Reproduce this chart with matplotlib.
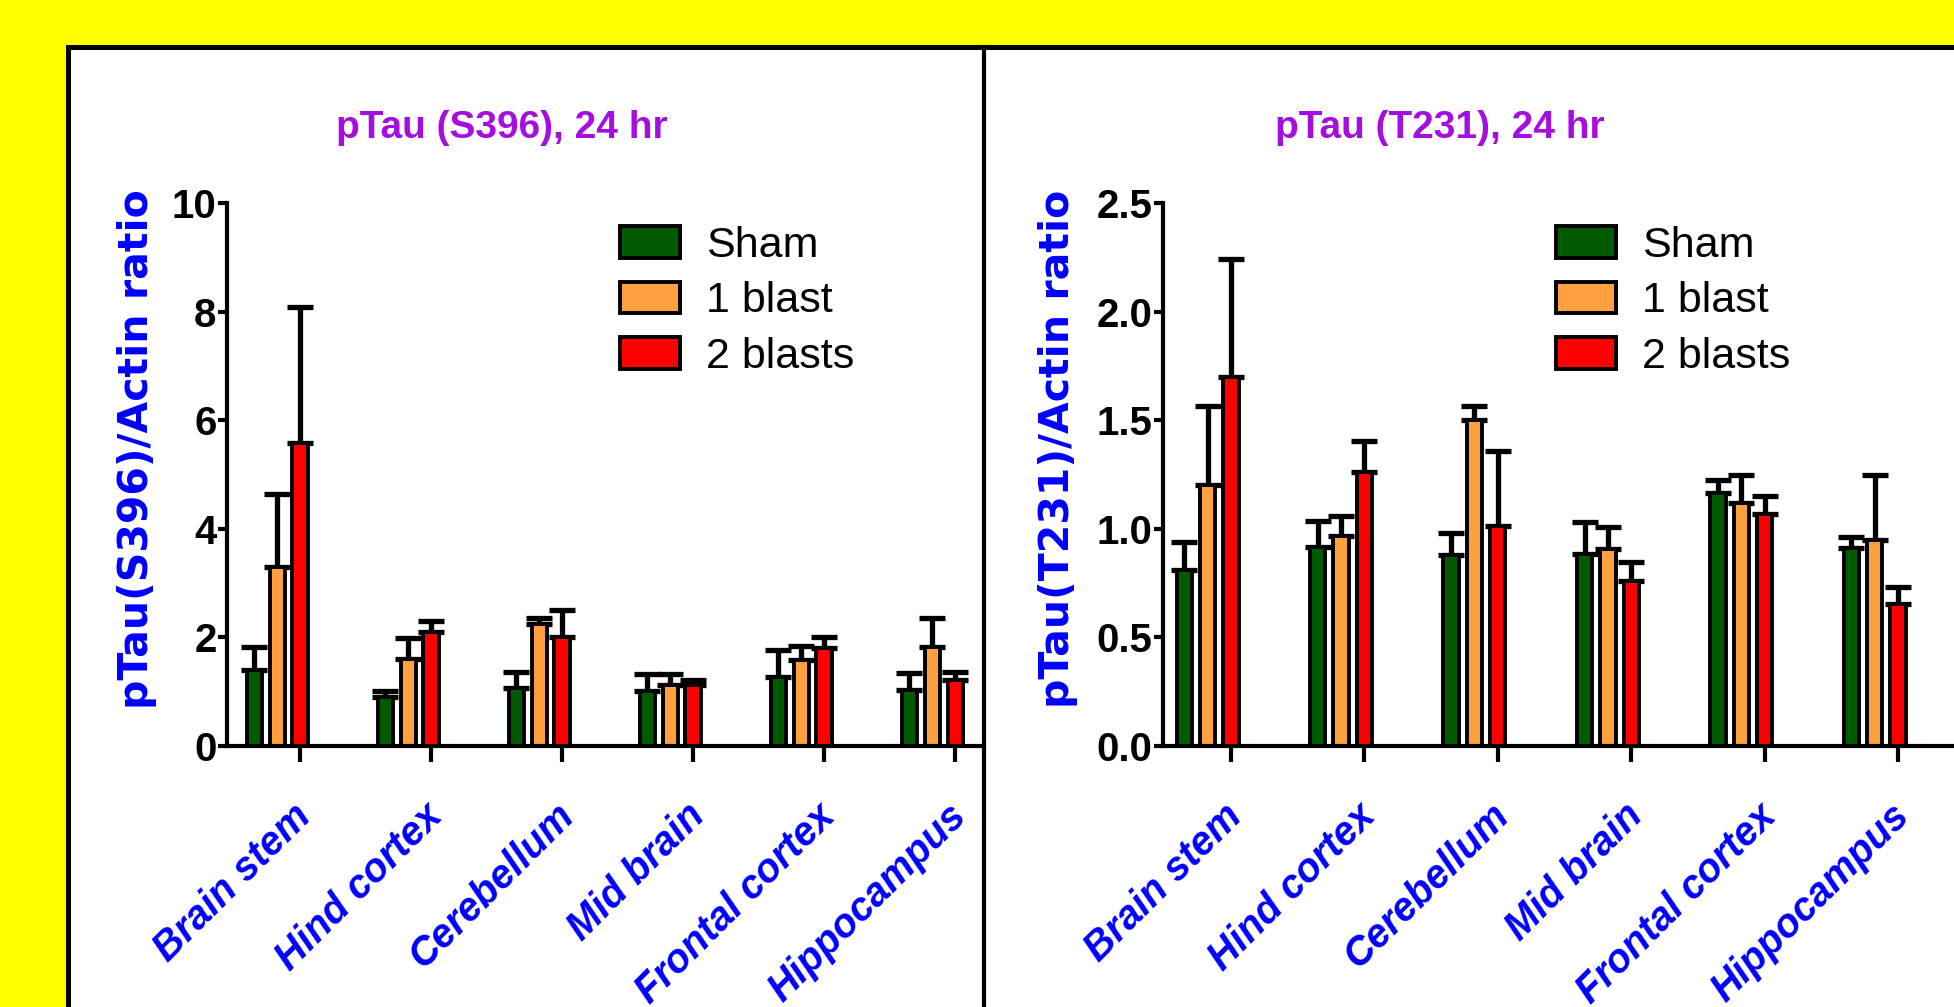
import matplotlib
matplotlib.use("Agg")
import matplotlib.pyplot as plt
import numpy as np
from matplotlib.patches import Rectangle, Patch
from matplotlib.lines import Line2D
from matplotlib.transforms import ScaledTranslation

# ---- data -------------------------------------------------------------
regions = ["Brain stem", "Hind cortex", "Cerebellum", "Mid brain",
           "Frontal cortex", "Hippocampus"]
groups = ["Sham", "1 blast", "2 blasts"]
colors = ["#005a00", "#ffa040", "#ff0000"]

# pTau (S396) / actin, mean and upper SEM
s396_sham = [1.40, 0.90, 1.07, 1.01, 1.27, 1.03]
s396_sham_err = [0.42, 0.11, 0.29, 0.31, 0.50, 0.32]
s396_one = [3.30, 1.61, 2.25, 1.13, 1.58, 1.83]
s396_one_err = [1.35, 0.37, 0.11, 0.19, 0.27, 0.52]
s396_two = [5.58, 2.10, 2.00, 1.12, 1.80, 1.21]
s396_two_err = [2.50, 0.21, 0.50, 0.09, 0.20, 0.15]

# pTau (T231) / actin, mean and upper SEM
t231_sham = [0.81, 0.915, 0.88, 0.885, 1.165, 0.913]
t231_sham_err = [0.13, 0.12, 0.10, 0.145, 0.06, 0.05]
t231_one = [1.20, 0.967, 1.50, 0.905, 1.12, 0.95]
t231_one_err = [0.365, 0.09, 0.065, 0.105, 0.13, 0.30]
t231_two = [1.70, 1.26, 1.015, 0.76, 1.07, 0.655]
t231_two_err = [0.54, 0.145, 0.345, 0.085, 0.08, 0.075]

s396_ticks = [0, 2, 4, 6, 8, 10]
t231_ticks = [0.0, 0.5, 1.0, 1.5, 2.0, 2.5]

# ---- figure -----------------------------------------------------------
W, H = 1954, 1007
fig = plt.figure(figsize=(W / 100, H / 100), dpi=100)
fig.patch.set_facecolor("#ffff00")


def fx(px):
    return px / W


def fy(py):
    return 1 - py / H


# white panel area and black frame lines
fig.patches.append(Rectangle((fx(68), 0), 1 - fx(68), fy(47), transform=fig.transFigure,
                             facecolor="white", edgecolor="none", zorder=-5))
frame_kw = dict(color="black", linewidth=3.6, transform=fig.transFigure, zorder=5,
                solid_capstyle="projecting")
fig.lines.append(Line2D([fx(68), fx(68)], [0, fy(47)], **frame_kw))
fig.lines.append(Line2D([fx(68), 1], [fy(47), fy(47)], **frame_kw))
fig.lines.append(Line2D([fx(984), fx(984)], [0, fy(47)], linewidth=3.0,
                        color="black", transform=fig.transFigure, zorder=5))

TICK_FONT = ["Liberation Sans Narrow", "Liberation Sans"]
EDGE = 2.8
step = 0.175
width = 0.115


def panel(rect, xlim, ylim, ticks, tick_fmt, series, errs, ylabel, title,
          title_x, ylabel_x, legend_x):
    ax = fig.add_axes(rect, zorder=2)
    ax.set_facecolor("none")
    x = np.arange(len(regions))
    for k in range(3):
        pos = x - (2 - k) * step
        ax.errorbar(pos, series[k], yerr=[np.zeros(len(regions)), errs[k]],
                    fmt="none", ecolor="black", elinewidth=3.8, capsize=9.5,
                    capthick=3.8, zorder=2)
        ax.bar(pos, series[k], width=width, color=colors[k], edgecolor="black",
               linewidth=EDGE, zorder=3)
    ax.set_xlim(*xlim)
    ax.set_ylim(*ylim)
    for s in ("top", "right"):
        ax.spines[s].set_visible(False)
    for s in ("left", "bottom"):
        ax.spines[s].set_linewidth(3.0)
    ax.spines["bottom"].set_zorder(4)
    ax.set_yticks(ticks)
    ax.set_yticklabels([tick_fmt.format(t) for t in ticks], family=TICK_FONT,
                       fontweight="bold", fontsize=29)
    ax.tick_params(axis="y", length=6.5, width=3.0, pad=1)
    ax.set_xticks(x)
    ax.set_xticklabels(regions, rotation=45, ha="right", va="top",
                       rotation_mode="anchor", fontsize=28.5, fontweight="bold",
                       fontstyle="italic", color="#0000ff", family="Liberation Sans")
    ax.tick_params(axis="x", length=11.5, width=3.0, pad=25)
    for lab in ax.get_xticklabels():
        lab.set_transform(lab.get_transform() + ScaledTranslation(-0.08, 0, fig.dpi_scale_trans))

    fig.text(fx(ylabel_x), fy(449), ylabel, rotation=90, ha="center", va="center",
             family="DejaVu Sans", fontweight="bold", fontsize=29.5, color="#0000ff")
    fig.text(fx(title_x), fy(138), title, ha="center", va="baseline",
             family="Liberation Sans", fontweight="bold", fontsize=28, color="#a40fe0")

    handles = [Patch(facecolor=c, edgecolor="black", linewidth=EDGE) for c in colors]
    ax.legend(handles, groups, loc="upper left", bbox_to_anchor=(fx(legend_x), fy(226)),
              bbox_transform=fig.transFigure, frameon=False,
              prop={"family": "Liberation Sans", "size": 31},
              handlelength=1.4, handleheight=0.75, handletextpad=0.6,
              labelspacing=0.36, borderpad=0, borderaxespad=0)
    return ax


panel([fx(227), fy(746), fx(984) - fx(227), fy(203) - fy(746)],
      (-0.557, 5.221), (0, 10), s396_ticks, "{:d}",
      [s396_sham, s396_one, s396_two], [s396_sham_err, s396_one_err, s396_two_err],
      "pTau(S396)/Actin ratio", "pTau (S396), 24 hr", 502, 137, 620)

panel([fx(1163), fy(746), 1 - fx(1163), fy(203) - fy(746)],
      (-0.510, 5.42), (0, 2.5), t231_ticks, "{:.1f}",
      [t231_sham, t231_one, t231_two], [t231_sham_err, t231_one_err, t231_two_err],
      "pTau(T231)/Actin ratio", "pTau (T231), 24 hr", 1440, 1058, 1556)

fig.savefig("out.png", dpi=100, facecolor=fig.get_facecolor())
